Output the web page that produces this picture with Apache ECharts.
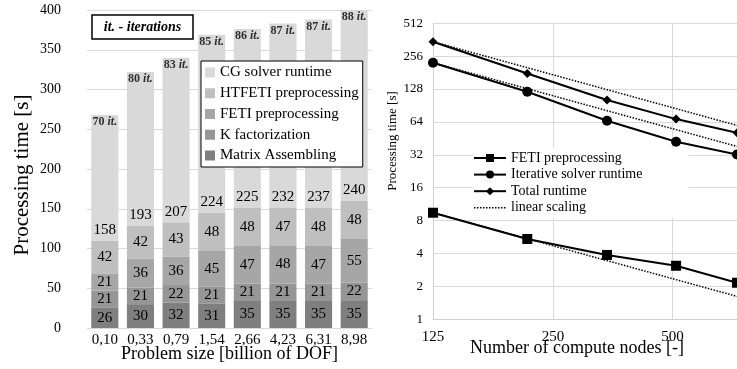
<!DOCTYPE html>
<html><head><meta charset="utf-8">
<script src="https://cdn.jsdelivr.net/npm/echarts@6/dist/echarts.min.js"></script>
<style>html,body{margin:0;padding:0;background:#fff}#c{width:737px;height:369px}</style>
</head><body><div id="c"></div>
<script>
// ---- left chart data (weak scaling) ----
const categories = ['0,10','0,33','0,79','1,54','2,66','4,23','6,31','8,98'];
const matrixAssembling = [26,30,32,31,35,35,35,35];
const kFactorization   = [21,21,22,21,21,21,21,22];
const fetiPre          = [21,36,36,45,47,48,47,55];
const htfetiPre        = [42,42,43,48,48,47,48,48];
const cgSolver         = [158,193,207,224,225,232,237,240];
const iterations       = [70,80,83,85,86,87,87,88];
const leftYMin = 0, leftYMax = 400, leftYStep = 50;

// ---- right chart data (strong scaling) ----
const nodes          = [125,216,343,512,729];
const fetiPreTime    = [9.45,5.43,3.88,3.09,2.16];
const iterSolverTime = [223,121,65.6,42.2,32.3];
const totalTime      = [347,178,101.6,68,50.9];
const linearNodes    = [125,729];
const linearTotal    = [347,59.5];
const linearIter     = [223,38.2];
const linearFeti     = [9.45,1.62];
const rightYMin = 1, rightYMax = 512;

const F = "'Liberation Serif','Times New Roman',serif";
const totals = categories.map((_, i) => matrixAssembling[i] + kFactorization[i] + fetiPre[i] + htfetiPre[i] + cgSolver[i]);
const pair = (xs, ys) => xs.map((x, i) => [x, ys[i]]);

const barLabel = {show: true, position: 'inside', color: '#000', fontSize: 15, fontFamily: F};
const barCommon = {type: 'bar', stack: 'total', xAxisIndex: 0, yAxisIndex: 0, barWidth: '76%'};

const chart = echarts.init(document.getElementById('c'), null, {renderer: 'canvas'});
chart.setOption({
  animation: false,
  backgroundColor: '#fff',
  textStyle: {fontFamily: F},
  grid: [
    {left: 87, right: 365, top: 10, bottom: 41},
    {left: 433, right: -2, top: 23.3, bottom: 49.7}
  ],
  xAxis: [
    {type: 'category', gridIndex: 0, data: categories,
     axisLine: {show: false}, axisTick: {show: false},
     axisLabel: {color: '#000', fontSize: 15, fontFamily: F, margin: 5}},
    {type: 'log', logBase: 2, gridIndex: 1, min: nodes[0], max: nodes[nodes.length - 1], interval: 1,
     axisLine: {show: true, lineStyle: {color: '#d0d0d0', width: 1}}, axisTick: {show: false},
     splitLine: {show: true, lineStyle: {color: '#d9d9d9', width: 1}},
     axisLabel: {color: '#000', fontSize: 15, fontFamily: F, margin: 10, showMaxLabel: false,
                 formatter: v => String(Math.round(v / 25) * 25)}}
  ],
  yAxis: [
    {type: 'value', gridIndex: 0, min: leftYMin, max: leftYMax, interval: leftYStep,
     axisLine: {show: false}, axisTick: {show: false},
     splitLine: {show: true, lineStyle: {color: '#d9d9d9', width: 1}},
     axisLabel: {color: '#000', fontSize: 14, fontFamily: F, margin: 26, padding: [8, 0, 0, 0]}},
    {type: 'log', logBase: 2, gridIndex: 1, min: rightYMin, max: rightYMax, interval: 1,
     axisLine: {show: true, lineStyle: {color: '#d0d0d0', width: 1}}, axisTick: {show: false},
     splitLine: {show: true, lineStyle: {color: '#d9d9d9', width: 1}},
     axisLabel: {color: '#000', fontSize: 13, fontFamily: F, margin: 10, padding: [4, 0, 0, 0],
                 formatter: v => String(Math.round(v))}}
  ],
  legend: [
    {left: 201, top: 61, orient: 'vertical', backgroundColor: '#fff', borderColor: '#000', borderWidth: 1,
     padding: [4, 4, 4, 4], itemWidth: 10, itemHeight: 10, itemGap: 5.75, icon: 'rect',
     textStyle: {color: '#000', fontSize: 15, fontFamily: F, lineHeight: 15},
     data: ['CG solver runtime', 'HTFETI preprocessing', 'FETI preprocessing', 'K factorization', 'Matrix Assembling']},
    {left: 473, top: 148, orient: 'vertical', backgroundColor: '#fff', borderWidth: 0,
     padding: [3, 46, 3, 0], itemWidth: 32, itemHeight: 10, itemGap: 2.6,
     textStyle: {color: '#000', fontSize: 14, fontFamily: F, lineHeight: 14},
     data: ['FETI preprocessing ', 'Iterative solver runtime', 'Total runtime',
            {name: 'linear scaling', itemStyle: {color: 'transparent', borderColor: 'transparent', borderWidth: 0},
             lineStyle: {color: '#000', width: 1.5, type: 'dotted'}}]}
  ],
  series: [
    {...barCommon, name: 'Matrix Assembling', data: matrixAssembling, itemStyle: {color: '#7f7f7f'}, label: barLabel},
    {...barCommon, name: 'K factorization', data: kFactorization, itemStyle: {color: '#969696'}, label: barLabel},
    {...barCommon, name: 'FETI preprocessing', data: fetiPre, itemStyle: {color: '#a6a6a6'}, label: barLabel},
    {...barCommon, name: 'HTFETI preprocessing', data: htfetiPre, itemStyle: {color: '#bfbfbf'}, label: barLabel},
    {...barCommon, name: 'CG solver runtime', data: cgSolver, itemStyle: {color: '#d9d9d9'},
     label: {...barLabel, position: 'insideBottom', distance: 3}},
    {type: 'scatter', name: 'iterations', xAxisIndex: 0, yAxisIndex: 0, data: totals, symbolSize: 0,
     itemStyle: {color: 'transparent'}, z: 5,
     label: {show: true, position: 'bottom', distance: 1, color: '#000',
             formatter: p => '{n|' + iterations[p.dataIndex] + ' }{i|it.}',
             rich: {n: {fontSize: 12, fontWeight: 'bold', fontFamily: F, color: '#000'},
                    i: {fontSize: 12, fontWeight: 'bold', fontStyle: 'italic', fontFamily: F, color: '#000'}}}},

    {type: 'line', name: 'linear scaling', xAxisIndex: 1, yAxisIndex: 1, data: pair(linearNodes, linearTotal),
     symbol: 'none', lineStyle: {color: '#000', width: 1.5, type: 'dotted'}, itemStyle: {color: '#000'}, z: 3},
    {type: 'line', name: 'linear scaling', xAxisIndex: 1, yAxisIndex: 1, data: pair(linearNodes, linearIter),
     symbol: 'none', lineStyle: {color: '#000', width: 1.5, type: 'dotted'}, itemStyle: {color: '#000'}, z: 3},
    {type: 'line', name: 'linear scaling', xAxisIndex: 1, yAxisIndex: 1, data: pair(linearNodes, linearFeti),
     symbol: 'none', lineStyle: {color: '#000', width: 1.5, type: 'dotted'}, itemStyle: {color: '#000'}, z: 3},
    {type: 'line', name: 'FETI preprocessing ', xAxisIndex: 1, yAxisIndex: 1, data: pair(nodes, fetiPreTime),
     symbol: 'rect', symbolSize: 10, lineStyle: {color: '#000', width: 2}, itemStyle: {color: '#000'}, z: 4},
    {type: 'line', name: 'Iterative solver runtime', xAxisIndex: 1, yAxisIndex: 1, data: pair(nodes, iterSolverTime),
     symbol: 'circle', symbolSize: 10, lineStyle: {color: '#000', width: 2}, itemStyle: {color: '#000'}, z: 4},
    {type: 'line', name: 'Total runtime', xAxisIndex: 1, yAxisIndex: 1, data: pair(nodes, totalTime),
     symbol: 'diamond', symbolSize: 9, lineStyle: {color: '#000', width: 2}, itemStyle: {color: '#000'}, z: 4}
  ],
  graphic: [
    {type: 'rect', shape: {x: 92, y: 15, width: 101, height: 24}, z: 10,
     style: {fill: '#fff', stroke: '#000', lineWidth: 1.5}},
    {type: 'text', x: 142.5, y: 27, z: 11,
     style: {text: 'it. - iterations', font: "italic bold 14px 'Liberation Serif', serif", fill: '#000', align: 'center', verticalAlign: 'middle'}},
    {type: 'text', x: 22, y: 175, rotation: Math.PI / 2,
     style: {text: 'Processing time [s]', font: "21px 'Liberation Serif', serif", fill: '#000', align: 'center', verticalAlign: 'middle'}},
    {type: 'text', x: 229.5, y: 354,
     style: {text: 'Problem size [billion of DOF]', font: "18px 'Liberation Serif', serif", fill: '#000', align: 'center', verticalAlign: 'middle'}},
    {type: 'text', x: 393, y: 141, rotation: Math.PI / 2,
     style: {text: 'Processing time [s]', font: "13px 'Liberation Serif', serif", fill: '#000', align: 'center', verticalAlign: 'middle'}},
    {type: 'text', x: 577, y: 348,
     style: {text: 'Number of compute nodes [-]', font: "18px 'Liberation Serif', serif", fill: '#000', align: 'center', verticalAlign: 'middle'}}
  ]
});
</script>
</body></html>
